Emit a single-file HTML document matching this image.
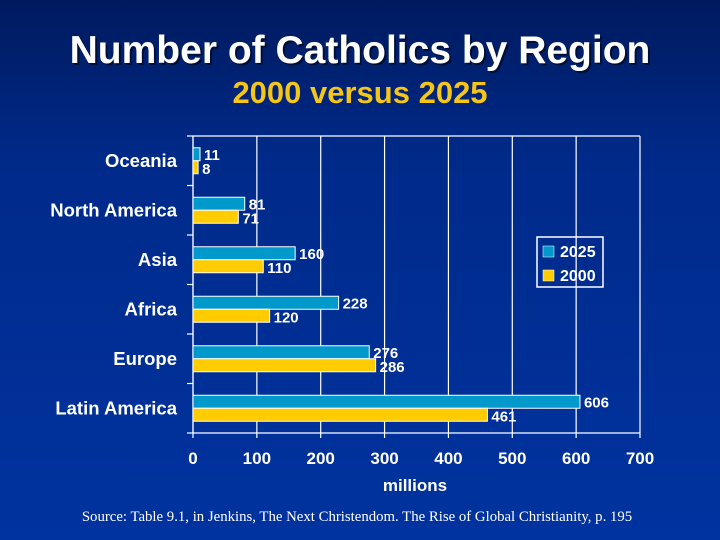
<!DOCTYPE html>
<html><head><meta charset="utf-8"><style>
html,body{margin:0;padding:0}
body{width:720px;height:540px;overflow:hidden;background:linear-gradient(180deg,#001a5e 0%,#002a8a 30%,#0033a0 100%);font-family:"Liberation Sans",sans-serif}
</style></head><body>
<svg width="720" height="540" style="position:absolute;left:0;top:0">
<text x="362" y="65" text-anchor="middle" font-size="39" font-weight="bold" fill="#000" opacity="0.5">Number of Catholics by Region</text>
<text x="360" y="63" text-anchor="middle" font-size="39" font-weight="bold" fill="#fff">Number of Catholics by Region</text>
<text x="360" y="103" text-anchor="middle" font-size="31" font-weight="bold" fill="#f5c518">2000 versus 2025</text>
<g id="plot"></g>
<g>
<rect x="537" y="237" width="66" height="50" fill="none" stroke="#fff" stroke-width="1.5"/>
<rect x="543" y="246" width="11" height="11" fill="#0099cc" stroke="#fff" stroke-width="0.5"/>
<text x="560" y="257" font-size="16" font-weight="bold" fill="#fff">2025</text>
<rect x="543" y="270" width="11" height="11" fill="#ffcc00" stroke="#fff" stroke-width="0.5"/>
<text x="560" y="281" font-size="16" font-weight="bold" fill="#fff">2000</text>
</g>
<text x="415" y="491" text-anchor="middle" font-size="17" font-weight="bold" fill="#fff">millions</text>
<text x="357" y="521" text-anchor="middle" font-size="14.8" font-family="Liberation Serif, serif" fill="#fff">Source: Table 9.1, in Jenkins, The Next Christendom. The Rise of Global Christianity, p. 195</text>
</svg>
<script>
const categories=["Oceania","North America","Asia","Africa","Europe","Latin America"];
const values2025=[11,81,160,228,276,606];
const values2000=[8,71,110,120,286,461];
const xTicks=[0,100,200,300,400,500,600,700];
const NS="http://www.w3.org/2000/svg";
const g=document.getElementById('plot');
const x0=193,x1=640,yTop=136,yBot=433,xMax=700;
const xs=v=>x0+v/xMax*(x1-x0);
const band=(yBot-yTop)/categories.length;
const yc=i=>yTop+band*(i+0.5);
function mk(t,a){const e=document.createElementNS(NS,t);for(const k in a)e.setAttribute(k,a[k]);g.appendChild(e);return e;}
xTicks.forEach(t=>{
 const l=mk('line',{x1:xs(t),x2:xs(t),y1:yTop,y2:yBot+5,stroke:'#fff','stroke-width':1.2});
 
 
 const tx=mk('text',{x:xs(t),y:464,'text-anchor':'middle','font-size':17,'font-weight':'bold',fill:'#fff'});
 tx.textContent=t;
 
 
});
const topBorder=mk('line',{x1:x0,x2:x1,y1:yTop,y2:yTop,stroke:'#fff','stroke-width':1.2});


const botBorder=mk('line',{x1:x0,x2:x1,y1:yBot,y2:yBot,stroke:'#fff','stroke-width':1.2});


for(let i=0;i<=categories.length;i++){
 const t=mk('line',{x1:x0-6,x2:x0,y1:yTop+band*i,y2:yTop+band*i,stroke:'#fff','stroke-width':1.2});
 
 
}
const yAxis=mk('line',{x1:x0,x2:x0,y1:yTop,y2:yBot,stroke:'#fff','stroke-width':1.2});


categories.forEach((c,i)=>{
 const cy=yc(i);
 const lab=mk('text',{x:177,y:cy+6,'text-anchor':'end','font-size':18.5,'font-weight':'bold',fill:'#fff'});
 lab.textContent=c;
 
 
 const b1=mk('rect',{x:x0,y:cy-13,width:xs(values2025[i])-x0,height:13,fill:'#0099cc',stroke:'#fff','stroke-width':1});
 
 
 const b2=mk('rect',{x:x0,y:cy,width:xs(values2000[i])-x0,height:13,fill:'#ffcc00',stroke:'#fff','stroke-width':1});
 
 
 const l1=mk('text',{x:xs(values2025[i])+4,y:cy-1,'font-size':15,'font-weight':'bold',fill:'#fff'});
 l1.textContent=values2025[i];
 
 
 const l2=mk('text',{x:xs(values2000[i])+4,y:cy+13,'font-size':15,'font-weight':'bold',fill:'#fff'});
 l2.textContent=values2000[i];
 
 
});
</script>
</body></html>
